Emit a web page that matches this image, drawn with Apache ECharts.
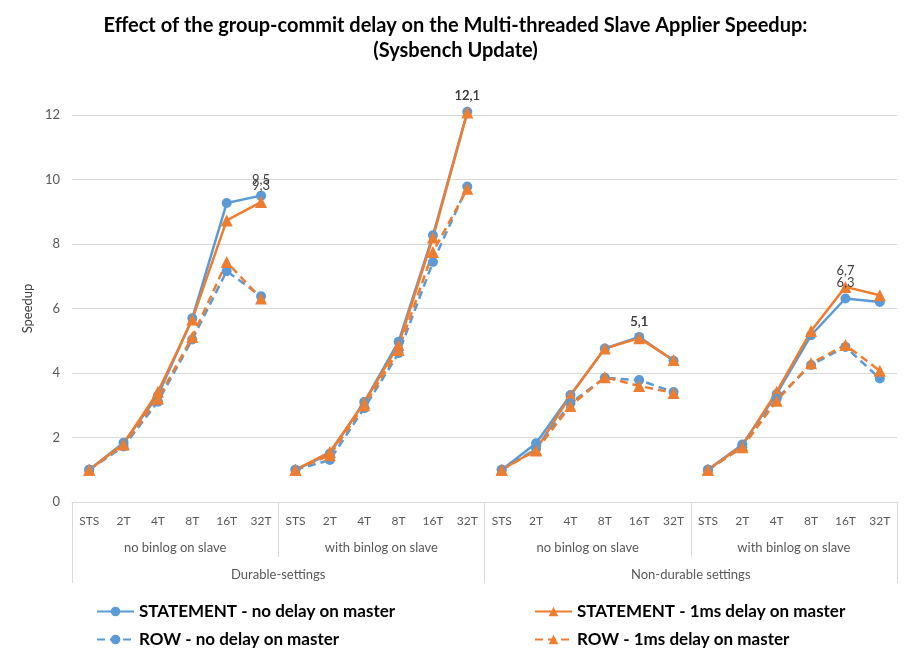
<!DOCTYPE html>
<html>
<head>
<meta charset="utf-8">
<script src="https://cdn.jsdelivr.net/npm/echarts@6/dist/echarts.min.js"></script>
<style>
  html, body { margin: 0; padding: 0; background: #fff; }
  #chart { width: 911px; height: 661px; }
</style>
</head>
<body>
<div id="chart"></div>
<script>
// axis labels (three levels)
var threads = ['STS', '2T', '4T', '8T', '16T', '32T'];
var binlogGroups = ['no binlog on slave', 'with binlog on slave', 'no binlog on slave', 'with binlog on slave'];
var settingGroups = ['Durable-settings', 'Non-durable settings'];

// speedup values, 6 per binlog group
var stmtNoDelay = [1.0, 1.84, 3.3, 5.7, 9.27, 9.5,   1.0, 1.5, 3.1, 4.97, 8.27, 12.1,   1.0, 1.82, 3.32, 4.76, 5.12, 4.38,   1.0, 1.78, 3.35, 5.17, 6.31, 6.2];
var stmt1msDelay = [1.0, 1.8, 3.42, 5.66, 8.73, 9.3,  1.0, 1.55, 3.08, 4.87, 8.2, 12.08,  1.0, 1.62, 3.3, 4.76, 5.08, 4.4,    1.0, 1.75, 3.42, 5.3, 6.67, 6.41];
var rowNoDelay = [1.0, 1.72, 3.11, 5.04, 7.16, 6.38,  1.0, 1.3, 2.91, 4.61, 7.44, 9.78,   1.0, 1.65, 3.06, 3.85, 3.78, 3.41,   1.0, 1.7, 3.2, 4.25, 4.81, 3.83];
var row1msDelay = [1.0, 1.78, 3.2, 5.12, 7.44, 6.31,  1.0, 1.45, 3.0, 4.71, 7.75, 9.71,   1.0, 1.6, 2.98, 3.87, 3.6, 3.38,     1.0, 1.7, 3.14, 4.3, 4.87, 4.07];

// points that carry a value label (STATEMENT series only)
var labelled = [5, 11, 16, 22];

var BLUE = '#5b9bd5';
var ORANGE = '#ed7d31';

var allThreads = [];
binlogGroups.forEach(function () { allThreads = allThreads.concat(threads); });

var defs = [
  { name: 'STATEMENT - no delay on master', data: stmtNoDelay, color: BLUE, symbol: 'circle', size: 10, dash: 'solid', labels: true },
  { name: 'STATEMENT - 1ms delay on master', data: stmt1msDelay, color: ORANGE, symbol: 'triangle', size: 12, dash: 'solid', labels: true },
  { name: 'ROW - no delay on master', data: rowNoDelay, color: BLUE, symbol: 'circle', size: 10, dash: [8, 5], labels: false },
  { name: 'ROW - 1ms delay on master', data: row1msDelay, color: ORANGE, symbol: 'triangle', size: 12, dash: [8, 5], labels: false }
];

// one line per binlog group so the lines break between groups
var series = [];
defs.forEach(function (d) {
  for (var g = 0; g < binlogGroups.length; g++) {
    var pts = d.data.map(function (v, i) {
      if (Math.floor(i / threads.length) !== g) return '-';
      if (d.labels && labelled.indexOf(i) >= 0) {
        return { value: v, label: { show: true } };
      }
      return v;
    });
    series.push({
      name: d.name,
      type: 'line',
      data: pts,
      clip: false,
      connectNulls: false,
      symbol: d.symbol,
      symbolSize: d.size,
      color: d.color,
      itemStyle: { color: d.color },
      lineStyle: { color: d.color, width: 2.5, type: d.dash },
      label: {
        show: false,
        position: 'top',
        distance: 4,
        color: '#404040',
        fontSize: 13,
        fontFamily: 'Lato',
        formatter: function (p) { return p.value.toFixed(1).replace('.', ','); }
      },
      emphasis: { disabled: true }
    });
  }
});

var legendBase = {
  itemWidth: 37,
  itemHeight: 12,
  textStyle: { fontSize: 17, fontWeight: 'bold', color: '#000', fontFamily: 'Lato' }
};
function legendAt(name, left, top) {
  return Object.assign({ data: [name], left: left, top: top }, legendBase);
}

var titleStyle = { fontSize: 20, fontWeight: 'bold', color: '#000', fontFamily: 'Lato' };

var chart = echarts.init(document.getElementById('chart'));
chart.setOption({
  animation: false,
  title: [
    { text: 'Effect of the group-commit delay on the Multi-threaded Slave Applier Speedup:', left: 'center', top: 11, textStyle: titleStyle },
    { text: '(Sysbench Update)', left: 'center', top: 36, textStyle: titleStyle }
  ],
  legend: [
    legendAt(defs[0].name, 91, 598),
    legendAt(defs[1].name, 529, 598),
    legendAt(defs[2].name, 91, 626),
    legendAt(defs[3].name, 529, 626)
  ],
  grid: { left: 72, right: 14, top: 115, bottom: 159 },
  xAxis: [
    {
      type: 'category',
      data: allThreads,
      axisLine: { lineStyle: { color: '#d9d9d9' } },
      axisTick: { show: false },
      axisLabel: { color: '#595959', fontSize: 12, fontFamily: 'Lato', margin: 13, interval: 0 }
    },
    {
      type: 'category',
      position: 'bottom',
      data: binlogGroups,
      axisLine: { show: false },
      axisTick: { show: true, length: 55, lineStyle: { color: '#d9d9d9' } },
      axisLabel: { color: '#595959', fontSize: 13, fontFamily: 'Lato', margin: 39, interval: 0 }
    },
    {
      type: 'category',
      position: 'bottom',
      data: settingGroups,
      axisLine: { show: false },
      axisTick: { show: true, length: 81, lineStyle: { color: '#d9d9d9' } },
      axisLabel: { color: '#595959', fontSize: 13, fontFamily: 'Lato', margin: 66, interval: 0 }
    }
  ],
  yAxis: {
    type: 'value',
    min: 0,
    max: 12,
    interval: 2,
    name: 'Speedup',
    nameLocation: 'middle',
    nameGap: 32,
    nameTextStyle: { color: '#404040', fontSize: 13, fontFamily: 'Lato' },
    axisLine: { show: false },
    axisTick: { show: false },
    axisLabel: { color: '#595959', fontSize: 13, fontFamily: 'Lato', margin: 12 },
    splitLine: { lineStyle: { color: '#d9d9d9' } }
  },
  series: series
});
</script>
</body>
</html>
